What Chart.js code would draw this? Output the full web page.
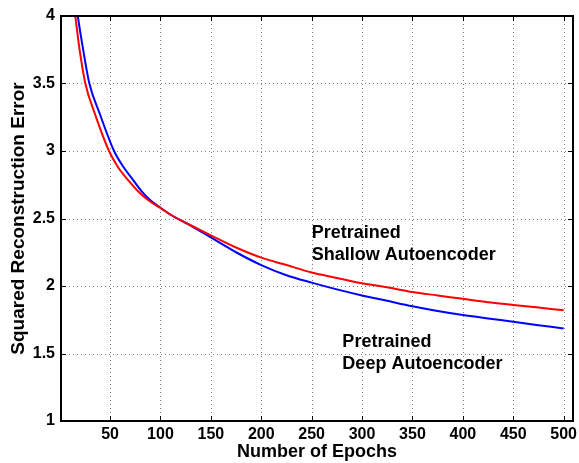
<!DOCTYPE html>
<html>
<head>
<meta charset="utf-8">
<script src="https://cdn.jsdelivr.net/npm/chart.js@4/dist/chart.umd.min.js"></script>
<style>
  html, body { margin: 0; padding: 0; background: #ffffff; }
  canvas { display: block; }
</style>
</head>
<body>
<canvas id="c" width="579" height="463"></canvas>
<script>
// ---- data ----
const shallowEpochs = [13, 15.5, 19.5, 25.5, 35, 49, 58, 68, 78, 88, 100, 111, 130, 150, 175, 200, 225, 250, 275, 300, 325, 350, 375, 400, 425, 450, 475, 500];
const shallowError  = [4.12, 4.00, 3.766, 3.50, 3.275, 3.00, 2.88, 2.784, 2.70, 2.635, 2.578, 2.524, 2.45, 2.375, 2.285, 2.21, 2.155, 2.10, 2.06, 2.02, 1.99, 1.955, 1.93, 1.905, 1.88, 1.86, 1.84, 1.82];
const deepEpochs = [16, 18, 23, 29.5, 40, 54, 63, 73, 81, 90, 100, 111, 130, 150, 175, 200, 225, 250, 275, 300, 325, 350, 375, 400, 425, 450, 475, 500];
const deepError  = [4.10, 4.00, 3.766, 3.50, 3.272, 3.00, 2.885, 2.784, 2.705, 2.635, 2.58, 2.524, 2.448, 2.36, 2.25, 2.155, 2.08, 2.025, 1.975, 1.93, 1.89, 1.85, 1.815, 1.785, 1.76, 1.735, 1.71, 1.685];
const xTicks = [50, 100, 150, 200, 250, 300, 350, 400, 450, 500];
const yTicks = [1, 1.5, 2, 2.5, 3, 3.5, 4];
const xLabel = 'Number of Epochs';
const yLabel = 'Squared Reconstruction Error';
const shallowNote = ['Pretrained', 'Shallow Autoencoder'];
const deepNote = ['Pretrained', 'Deep Autoencoder'];

const FONT = '"Liberation Sans", Arial, Helvetica, sans-serif';

function toPoints(xs, ys) { return xs.map((x, i) => ({ x: x, y: ys[i] })); }

const framePlugin = {
  id: 'frame',
  beforeDatasetsDraw(chart) {
    const ctx = chart.ctx, a = chart.chartArea;
    const xs = chart.scales.x, ys = chart.scales.y;
    ctx.save();
    ctx.strokeStyle = '#808080';
    ctx.lineWidth = 1;
    ctx.setLineDash([1, 3]);
    xTicks.forEach(v => {
      const px = Math.round(xs.getPixelForValue(v)) + 0.5;
      ctx.beginPath(); ctx.moveTo(px, a.top); ctx.lineTo(px, a.bottom); ctx.stroke();
    });
    yTicks.forEach(v => {
      const py = Math.round(ys.getPixelForValue(v)) + 0.5;
      ctx.beginPath(); ctx.moveTo(a.left, py); ctx.lineTo(a.right, py); ctx.stroke();
    });
    ctx.restore();
  },
  afterDatasetsDraw(chart) {
    const ctx = chart.ctx, a = chart.chartArea;
    const xs = chart.scales.x, ys = chart.scales.y;
    ctx.save();
    ctx.setLineDash([]);
    ctx.strokeStyle = '#000000';
    ctx.lineWidth = 1;
    const L = 5;
    xTicks.forEach(v => {
      const px = Math.round(xs.getPixelForValue(v)) + 0.5;
      ctx.beginPath(); ctx.moveTo(px, a.bottom); ctx.lineTo(px, a.bottom - L); ctx.stroke();
      ctx.beginPath(); ctx.moveTo(px, a.top); ctx.lineTo(px, a.top + L); ctx.stroke();
    });
    yTicks.forEach(v => {
      const py = Math.round(ys.getPixelForValue(v)) + 0.5;
      ctx.beginPath(); ctx.moveTo(a.left, py); ctx.lineTo(a.left + L, py); ctx.stroke();
      ctx.beginPath(); ctx.moveTo(a.right, py); ctx.lineTo(a.right - L, py); ctx.stroke();
    });
    ctx.lineWidth = 2;
    ctx.strokeRect(a.left, a.top, a.right - a.left, a.bottom - a.top);

    // annotations
    ctx.fillStyle = '#000000';
    ctx.font = 'bold 18px ' + FONT;
    ctx.textAlign = 'left';
    ctx.textBaseline = 'alphabetic';
    const sx = xs.getPixelForValue(250);
    ctx.fillText(shallowNote[0], sx, ys.getPixelForValue(2.359));
    ctx.fillText(shallowNote[1], sx, ys.getPixelForValue(2.196));
    const dx = xs.getPixelForValue(280.5);
    ctx.fillText(deepNote[0], dx, ys.getPixelForValue(1.548));
    ctx.fillText(deepNote[1], dx, ys.getPixelForValue(1.383));
    ctx.restore();
  }
};

new Chart(document.getElementById('c'), {
  type: 'line',
  data: {
    datasets: [
      { label: 'Shallow', data: toPoints(shallowEpochs, shallowError), borderColor: '#ff0000', borderWidth: 2, pointRadius: 0, cubicInterpolationMode: 'monotone', fill: false },
      { label: 'Deep', data: toPoints(deepEpochs, deepError), borderColor: '#0000ff', borderWidth: 2, pointRadius: 0, cubicInterpolationMode: 'monotone', fill: false }
    ]
  },
  options: {
    responsive: false,
    animation: false,
    devicePixelRatio: 1,
    layout: { padding: { top: 16, right: 6, left: 0, bottom: 0 } },
    plugins: { legend: { display: false }, tooltip: { enabled: false } },
    scales: {
      x: {
        type: 'linear',
        min: 1.36,
        max: 509.3,
        afterBuildTicks: s => { s.ticks = xTicks.map(v => ({ value: v })); },
        afterFit: s => { s.height = 42; s.paddingLeft = 0; s.paddingRight = 0; },
        grid: { display: false, drawTicks: false },
        border: { display: false },
        ticks: { color: '#000', font: { family: FONT, weight: 'bold', size: 16 }, padding: 4, maxRotation: 0, autoSkip: false, callback: v => String(v) },
        title: { display: true, text: xLabel, color: '#000', font: { family: FONT, weight: 'bold', size: 18 }, padding: { top: 0, bottom: 0 } }
      },
      y: {
        type: 'linear',
        min: 1,
        max: 4,
        afterBuildTicks: s => { s.ticks = yTicks.map(v => ({ value: v })); },
        afterFit: s => { s.width = 61; s.paddingTop = 0; s.paddingBottom = 0; },
        grid: { display: false, drawTicks: false },
        border: { display: false },
        ticks: { color: '#000', font: { family: FONT, weight: 'bold', size: 16 }, padding: 6, autoSkip: false, callback: v => String(v) },
        title: { display: true, text: yLabel, color: '#000', font: { family: FONT, weight: 'bold', size: 19 }, padding: { top: 7, bottom: 0 } }
      }
    }
  },
  plugins: [framePlugin]
});
</script>
</body>
</html>
